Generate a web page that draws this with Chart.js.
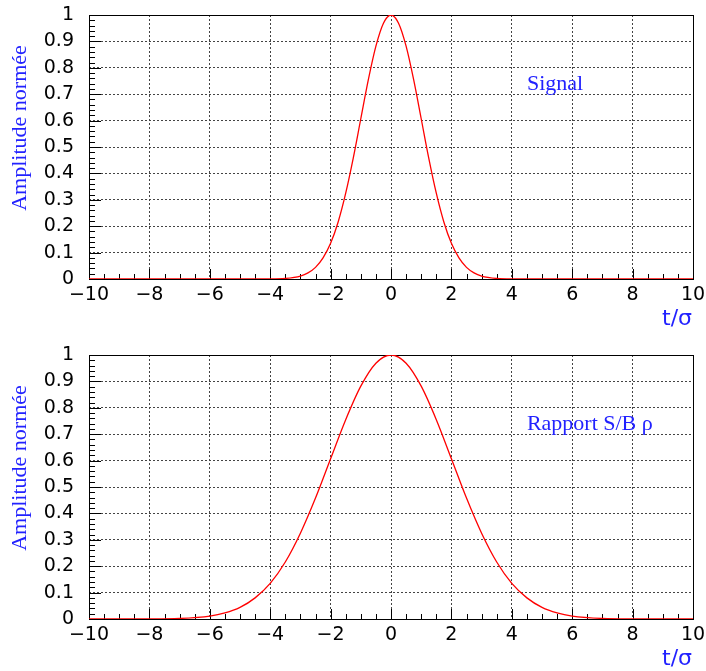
<!DOCTYPE html>
<html>
<head>
<meta charset="utf-8">
<script src="https://cdn.jsdelivr.net/npm/chart.js@4.4.0/dist/chart.umd.min.js"></script>
<style>
  body { margin: 0; background: #fff; }
  canvas { position: absolute; left: 0; }
  #haut { top: 0; }
  #bas { top: 340px; }
</style>
</head>
<body>
<canvas id="haut" width="706" height="340"></canvas>
<canvas id="bas" width="706" height="331"></canvas>
<script>
// valeurs
const tSignal = [-10, -4, -3.5, -3, -2.75, -2.5, -2.25, -2, -1.75, -1.5, -1.25, -1, -0.75, -0.5, -0.25, 0,
  0.25, 0.5, 0.75, 1, 1.25, 1.5, 1.75, 2, 2.25, 2.5, 2.75, 3, 3.5, 4, 10];
const ampSignal = [0, 0.0003, 0.002, 0.011, 0.023, 0.044, 0.08, 0.135, 0.216, 0.325, 0.458, 0.607, 0.755, 0.882, 0.969, 1,
  0.969, 0.882, 0.755, 0.607, 0.458, 0.325, 0.216, 0.135, 0.08, 0.044, 0.023, 0.011, 0.002, 0.0003, 0];

const tRapport = [-10, -8, -7, -6, -5.5, -5, -4.5, -4, -3.5, -3, -2.5, -2, -1.5, -1, -0.5, 0,
  0.5, 1, 1.5, 2, 2.5, 3, 3.5, 4, 4.5, 5, 5.5, 6, 7, 8, 10];
const ampRapport = [0, 0.0003, 0.002, 0.011, 0.023, 0.044, 0.08, 0.135, 0.216, 0.325, 0.458, 0.607, 0.755, 0.882, 0.969, 1,
  0.969, 0.882, 0.755, 0.607, 0.458, 0.325, 0.216, 0.135, 0.08, 0.044, 0.023, 0.011, 0.002, 0.0003, 0];

const xTicks = [-10, -8, -6, -4, -2, 0, 2, 4, 6, 8, 10];
const yTicks = [0, 0.1, 0.2, 0.3, 0.4, 0.5, 0.6, 0.7, 0.8, 0.9, 1];

const bleu = '#2222ff';

// cadre, graduations et textes facon ROOT
const cadre = {
  id: 'cadre',
  beforeDatasetsDraw(chart) {
    const { ctx, chartArea: a, scales: { x, y } } = chart;
    ctx.save();
    ctx.strokeStyle = '#000';
    ctx.lineWidth = 1;
    ctx.beginPath();
    for (let v = -10; v <= 10.001; v += 0.5) {
      const px = Math.round(x.getPixelForValue(v)) + 0.5;
      const len = Math.abs(v % 2) < 0.01 ? 10 : 5;
      ctx.moveTo(px, a.bottom);
      ctx.lineTo(px, a.bottom - len);
    }
    for (let i = 0; i <= 50; i++) {
      const v = i / 50;
      const py = Math.round(y.getPixelForValue(v)) + 0.5;
      const len = i % 5 === 0 ? 12 : 6;
      ctx.moveTo(a.left, py);
      ctx.lineTo(a.left + len, py);
    }
    ctx.stroke();
    ctx.strokeRect(Math.round(a.left) + 0.5, Math.round(a.top) + 0.5,
      Math.round(a.right - a.left), Math.round(a.bottom - a.top));
    ctx.restore();
  },
  afterDraw(chart, args, opts) {
    const { ctx, chartArea: a, scales: { x, y } } = chart;
    ctx.save();
    ctx.fillStyle = bleu;
    ctx.font = '22px "Liberation Serif"';
    ctx.textAlign = 'left';
    ctx.textBaseline = 'alphabetic';
    ctx.fillText(opts.texte, x.getPixelForValue(4.5), y.getPixelForValue(0.716));

    ctx.font = '22px "DejaVu Sans"';
    ctx.textAlign = 'right';
    ctx.fillText('t/σ', 692, 325);

    ctx.translate(20, a.top + 113);
    ctx.rotate(-Math.PI / 2);
    ctx.font = '22px "Liberation Serif"';
    ctx.textAlign = 'center';
    ctx.textBaseline = 'middle';
    ctx.fillText('Amplitude normée', 0, 0);
    ctx.restore();
  }
};

function faireGraphe(id, t, amp, texte, hautX) {
  return new Chart(document.getElementById(id), {
    type: 'line',
    data: {
      datasets: [{
        data: t.map((v, i) => ({ x: v, y: amp[i] })),
        borderColor: '#ff0000',
        borderWidth: 1.3,
        pointRadius: 0,
        cubicInterpolationMode: 'monotone',
        fill: false
      }]
    },
    options: {
      responsive: false,
      animation: false,
      devicePixelRatio: 1,
      layout: { padding: { left: 0, right: 13, top: 15, bottom: 0 } },
      plugins: {
        legend: { display: false },
        tooltip: { enabled: false },
        cadre: { texte }
      },
      scales: {
        x: {
          type: 'linear',
          min: -10,
          max: 10,
          afterFit(s) { s.height = hautX; s.paddingLeft = 0; s.paddingRight = 0; },
          afterBuildTicks(s) { s.ticks = xTicks.map(v => ({ value: v })); },
          grid: {
            drawTicks: false,
            color: c => (c.tick && Math.abs(c.tick.value) === 10) ? 'rgba(0,0,0,0)' : '#444'
          },
          border: { display: false, dash: [2, 2] },
          ticks: {
            autoSkip: false,
            maxRotation: 0,
            padding: 5,
            color: '#000',
            font: { family: 'DejaVu Sans', size: 19 },
            callback: v => String(v).replace('-', '−')
          }
        },
        y: {
          min: 0,
          max: 1,
          afterFit(s) { s.width = 89; s.paddingTop = 0; s.paddingBottom = 0; },
          afterBuildTicks(s) { s.ticks = yTicks.map(v => ({ value: v })); },
          grid: {
            drawTicks: false,
            color: c => (c.tick && (c.tick.value === 0 || c.tick.value === 1)) ? 'rgba(0,0,0,0)' : '#444'
          },
          border: { display: false, dash: [2, 2] },
          ticks: {
            autoSkip: false,
            padding: 15,
            color: '#000',
            font: { family: 'DejaVu Sans', size: 19 },
            callback: v => String(Math.round(v * 10) / 10)
          }
        }
      }
    },
    plugins: [cadre]
  });
}

faireGraphe('haut', tSignal, ampSignal, 'Signal', 61);
faireGraphe('bas', tRapport, ampRapport, 'Rapport S/B ρ', 52);
</script>
</body>
</html>
